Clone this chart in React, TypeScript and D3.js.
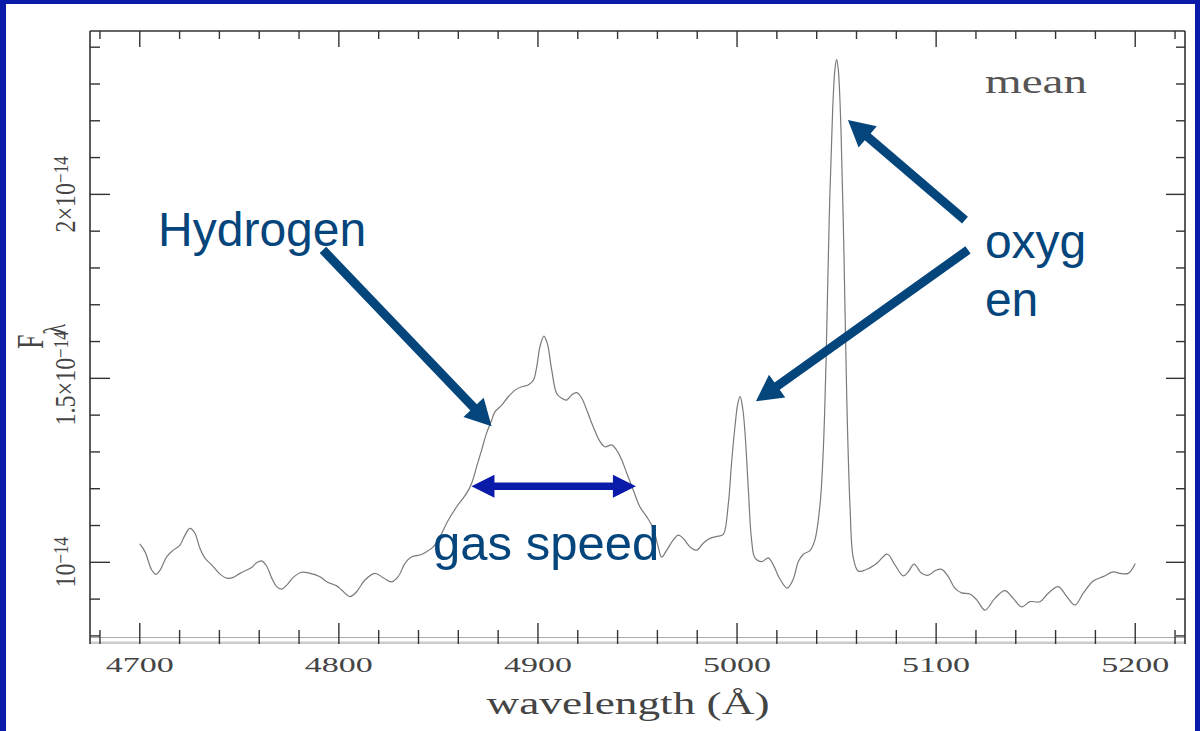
import React from 'react'
import * as d3 from 'd3'

// mean spectrum, wavelength in Å, flux in units of 1e-14
const wavelength = [
  4700, 4702.6, 4706.0, 4708.1, 4710.2, 4713.5, 4716.8, 4720.2, 4722.7, 4725.2,
  4727.7, 4730.2, 4732.8, 4736.1, 4740.3, 4743.7, 4747.0, 4750.3, 4753.7, 4756.2,
  4758.7, 4761.2, 4763.7, 4766.3, 4768.8, 4771.3, 4773.8, 4777.1, 4781.3, 4785.5,
  4790.5, 4793.9, 4798.9, 4801.4, 4805.6, 4808.9, 4813.1, 4818.1, 4822.3, 4826.5,
  4829.8, 4833.2, 4836.6, 4840.7, 4844.1, 4847.4, 4850.8, 4855.0, 4859.2, 4864.2,
  4866.7, 4869.2, 4871.7, 4874.2, 4876.8, 4878.4, 4881.8, 4885.1, 4888.5, 4891.8,
  4895.1, 4897.7, 4899.4, 4901.0, 4903.0, 4904.7, 4906.9, 4909.4, 4911.9, 4914.4,
  4916.9, 4919.5, 4922.0, 4924.5, 4927.8, 4931.2, 4933.7, 4937.0, 4939.5, 4942.1,
  4944.6, 4947.9, 4951.2, 4954.6, 4957.9, 4960.4, 4962.1, 4964.7, 4968.0, 4970.5,
  4973.0, 4976.4, 4979.7, 4983.0, 4986.4, 4990.6, 4993.1, 4995.6, 4997.3, 4999.0,
  5000.3, 5001.5, 5002.8, 5004.0, 5005.6, 5007.3, 5009.0, 5012.4, 5015.7, 5018.2,
  5021.6, 5025.2, 5028.2, 5030.8, 5033.3, 5036.6, 5039.1, 5041.7, 5043.3, 5044.7,
  5046.3, 5048.0, 5049.2, 5050.0, 5050.8, 5052.2, 5053.7, 5055.1, 5056.7, 5058.4,
  5060.9, 5065.1, 5070.1, 5075.5, 5079.3, 5083.5, 5086.0, 5088.9, 5092.7, 5096.1,
  5099.4, 5102.8, 5106.1, 5109.5, 5112.8, 5117.0, 5120.4, 5124.5, 5129.5, 5134.6,
  5138.7, 5143.0, 5147.1, 5152.1, 5156.3, 5161.3, 5165.6, 5169.7, 5173.9, 5178.9,
  5183.9, 5189.0, 5192.3, 5196.5, 5200
]

const flux = [
  1.050, 1.029, 0.979, 0.967, 0.979, 1.015, 1.033, 1.047, 1.074, 1.092,
  1.079, 1.038, 1.011, 0.993, 0.968, 0.957, 0.959, 0.970, 0.979, 0.986,
  0.999, 1.004, 0.990, 0.957, 0.934, 0.927, 0.938, 0.959, 0.973, 0.970,
  0.961, 0.947, 0.936, 0.925, 0.907, 0.920, 0.952, 0.970, 0.958, 0.947,
  0.961, 0.997, 1.015, 1.020, 1.029, 1.042, 1.070, 1.115, 1.151, 1.188,
  1.215, 1.260, 1.305, 1.351, 1.387, 1.409, 1.427, 1.450, 1.468, 1.477,
  1.482, 1.495, 1.532, 1.586, 1.615, 1.595, 1.523, 1.459, 1.446, 1.441,
  1.455, 1.461, 1.446, 1.414, 1.368, 1.328, 1.314, 1.319, 1.305, 1.278,
  1.242, 1.196, 1.151, 1.124, 1.092, 1.042, 1.014, 1.033, 1.061, 1.074,
  1.065, 1.042, 1.033, 1.052, 1.065, 1.071, 1.076, 1.158, 1.274, 1.371,
  1.429, 1.451, 1.420, 1.352, 1.206, 1.061, 1.012, 1.002, 1.012, 0.993,
  0.954, 0.930, 0.954, 1.002, 1.022, 1.032, 1.061, 1.158, 1.303, 1.546,
  1.934, 2.226, 2.342, 2.366, 2.342, 2.177, 1.837, 1.449, 1.158, 1.012,
  0.976, 0.981, 0.997, 1.022, 0.993, 0.963, 0.974, 0.995, 0.970, 0.965,
  0.977, 0.981, 0.961, 0.929, 0.917, 0.914, 0.898, 0.870, 0.902, 0.923,
  0.902, 0.879, 0.893, 0.893, 0.916, 0.934, 0.907, 0.884, 0.916, 0.949,
  0.961, 0.974, 0.970, 0.970, 0.997
]

const xMajorTicks = [4700, 4800, 4900, 5000, 5100, 5200]
const yMajorTicks = [1, 1.5, 2]
const yTickPrefix = ['', '1.5×', '2×']

// annotations, in data coordinates (wavelength, flux)
const hydrogenArrow = { from: [4792, 1.849], to: [4876.7, 1.37] }
const oxygenArrows = [
  { from: [5114.5, 1.93], to: [5055.7, 2.202] },
  { from: [5116, 1.849], to: [5009.5, 1.438] }
]
const speedArrow = { from: 4866.6, to: 4949.2, level: 1.207 }

const W = 1200
const H = 731
const frame = { left: 90, right: 1185, top: 31, bottom: 644 }

const x = d3.scaleLinear().domain([4675, 5225]).range([frame.left, frame.right])
const y = d3.scaleLinear().domain([0.778, 2.444]).range([frame.bottom, frame.top])

const xMinor = d3.range(4680, 5221, 20).filter(d => d % 100 !== 0)
const yMinor = d3.range(8, 25).map(d => d / 10).filter(d => !yMajorTicks.includes(d))

const ink = '#333'
const labelInk = '#444'
const noteBlue = '#04457c'
const brightBlue = '#0a1ba9'

const arrowPoints = (x1, y1, x2, y2, shaft, headLen, headW) => {
  const len = Math.hypot(x2 - x1, y2 - y1)
  const ux = (x2 - x1) / len, uy = (y2 - y1) / len
  const nx = -uy, ny = ux
  const bx = x2 - ux * headLen, by = y2 - uy * headLen
  const p = [
    [x1 + nx * shaft / 2, y1 + ny * shaft / 2],
    [bx + nx * shaft / 2, by + ny * shaft / 2],
    [bx + nx * headW / 2, by + ny * headW / 2],
    [x2, y2],
    [bx - nx * headW / 2, by - ny * headW / 2],
    [bx - nx * shaft / 2, by - ny * shaft / 2],
    [x1 - nx * shaft / 2, y1 - ny * shaft / 2]
  ]
  return p.map(d => d.join(',')).join(' ')
}

const doubleArrowPoints = (x1, x2, yy, shaft, headLen, headW) => {
  const p = [
    [x1, yy],
    [x1 + headLen, yy - headW / 2],
    [x1 + headLen, yy - shaft / 2],
    [x2 - headLen, yy - shaft / 2],
    [x2 - headLen, yy - headW / 2],
    [x2, yy],
    [x2 - headLen, yy + headW / 2],
    [x2 - headLen, yy + shaft / 2],
    [x1 + headLen, yy + shaft / 2],
    [x1 + headLen, yy + headW / 2]
  ]
  return p.map(d => d.join(',')).join(' ')
}

export default function App() {
  const points = wavelength.map((w, i) => [w, flux[i]])
  const line = d3.line()
    .x(d => x(d[0]))
    .y(d => y(d[1]))
    .curve(d3.curveCatmullRom.alpha(0.5))

  const serif = '"Liberation Serif", "DejaVu Serif", serif'
  const sans = '"Liberation Sans", Arial, sans-serif'

  return (
    <svg width={W} height={H} viewBox={`0 0 ${W} ${H}`}
      style={{ position: 'absolute', left: 0, top: 0, display: 'block' }}>
      <rect x={0} y={0} width={W} height={H} fill={brightBlue} />
      <rect x={6} y={4} width={W - 11} height={H - 4} fill="#fff" />

      {/* frame */}
      <line x1={frame.left} x2={frame.right} y1={637.5} y2={637.5} stroke="#aaa" strokeWidth={1} />
      <rect x={frame.left} y={641.5} width={frame.right - frame.left} height={2.5} fill="#ccc" />
      <line x1={frame.left} x2={frame.right} y1={frame.top} y2={frame.top} stroke={ink} strokeWidth={1.4} />
      <line x1={frame.left} x2={frame.left} y1={frame.top} y2={frame.bottom} stroke={ink} strokeWidth={1.6} />
      <line x1={frame.right} x2={frame.right} y1={frame.top} y2={frame.bottom} stroke={ink} strokeWidth={1.6} />

      {/* x ticks */}
      <g stroke={ink} strokeWidth={1.4}>
        {xMajorTicks.map(t => (
          <g key={'xm' + t}>
            <line x1={x(t)} x2={x(t)} y1={frame.top} y2={frame.top + 16} />
            <line x1={x(t)} x2={x(t)} y1={frame.bottom} y2={frame.bottom - 21} />
          </g>
        ))}
        {xMinor.map(t => (
          <g key={'xn' + t}>
            <line x1={x(t)} x2={x(t)} y1={frame.top} y2={frame.top + 8} />
            <line x1={x(t)} x2={x(t)} y1={frame.bottom} y2={frame.bottom - 14} />
          </g>
        ))}
      </g>

      {/* y ticks */}
      <g stroke={ink} strokeWidth={1.4}>
        {yMajorTicks.map(t => (
          <g key={'ym' + t}>
            <line x1={frame.left} x2={frame.left + 20} y1={y(t)} y2={y(t)} />
            <line x1={frame.right} x2={frame.right - 19} y1={y(t)} y2={y(t)} />
          </g>
        ))}
        {yMinor.map(t => (
          <g key={'yn' + t}>
            <line x1={frame.left} x2={frame.left + 10} y1={y(t)} y2={y(t)} />
            <line x1={frame.right} x2={frame.right - 9} y1={y(t)} y2={y(t)} />
          </g>
        ))}
      </g>

      {/* x tick labels */}
      {xMajorTicks.map(t => (
        <text key={'xl' + t} x={x(t)} y={672} textAnchor="middle" fontFamily={serif}
          fontSize={22} fill={labelInk} textLength={68} lengthAdjust="spacingAndGlyphs">{t}</text>
      ))}

      {/* y tick labels, rotated */}
      {yMajorTicks.map((t, i) => (
        <text key={'yl' + t} transform={`translate(75,${y(t)}) rotate(-90) scale(1,1.25)`}
          textAnchor="middle" fontFamily={serif} fontSize={24} fill={labelInk}>
          {yTickPrefix[i]}10<tspan dy={-6} fontSize={17}>−14</tspan>
        </text>
      ))}

      {/* axis titles */}
      <text x={628} y={714} textAnchor="middle" fontFamily={serif} fontSize={31} fill={labelInk}
        textLength={283} lengthAdjust="spacingAndGlyphs">wavelength (Å)</text>
      <text transform="translate(43,349) rotate(-90) scale(1,1.45)" fontFamily={serif} fontSize={26} fill={labelInk}>
        F<tspan dy={15} fontSize={22}>λ</tspan>
      </text>
      <text x={985} y={92.5} fontFamily={serif} fontSize={34} fill="#555"
        textLength={102} lengthAdjust="spacingAndGlyphs">mean</text>

      {/* spectrum */}
      <path d={line(points)} fill="none" stroke="#7a7a7a" strokeWidth={1.2} />

      {/* annotations */}
      <polygon fill={noteBlue}
        points={arrowPoints(x(hydrogenArrow.from[0]), y(hydrogenArrow.from[1]), x(hydrogenArrow.to[0]), y(hydrogenArrow.to[1]), 9, 26, 28)} />
      {oxygenArrows.map((a, i) => (
        <polygon key={'ox' + i} fill={noteBlue}
          points={arrowPoints(x(a.from[0]), y(a.from[1]), x(a.to[0]), y(a.to[1]), 9, 26, 28)} />
      ))}
      <polygon fill={brightBlue}
        points={doubleArrowPoints(x(speedArrow.from), x(speedArrow.to), y(speedArrow.level), 7.5, 23, 23)} />

      <text x={x(4709.2)} y={y(1.859)} fontFamily={sans} fontSize={48} fill={noteBlue}>Hydrogen</text>
      <text x={x(5124.5)} y={y(1.827)} fontFamily={sans} fontSize={48} fill={noteBlue}>oxyg</text>
      <text x={x(5124.5)} y={y(1.67)} fontFamily={sans} fontSize={48} fill={noteBlue}>en</text>
      <text x={x(4847.3)} y={y(1.006)} fontFamily={sans} fontSize={49} fill={noteBlue}>gas speed</text>
    </svg>
  )
}
